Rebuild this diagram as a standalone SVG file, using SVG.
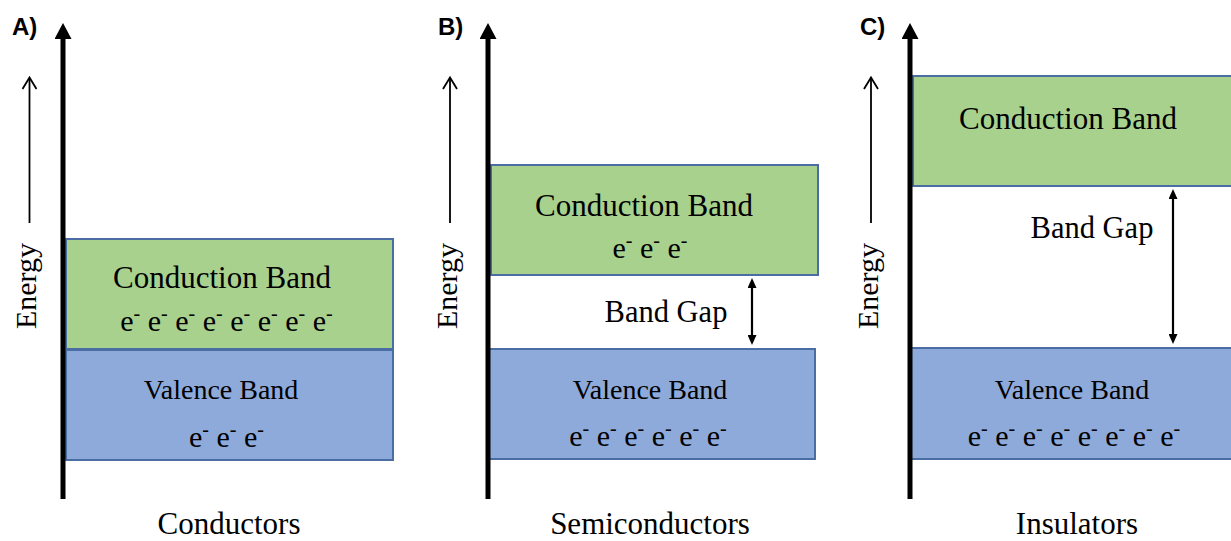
<svg xmlns="http://www.w3.org/2000/svg" width="1231" height="541" viewBox="0 0 1231 541">
<style>
.t{font-family:"Liberation Serif","Times New Roman",serif;fill:#000;text-anchor:middle}
.cb{font-size:31px}
.vb{font-size:28px}
.bg{font-size:30.5px}
.el{font-size:30px}
.lab{font-size:31px}
.en{font-size:30px}
.sup{font-size:20px}
.pl{font-family:"Liberation Sans",Arial,sans-serif;font-weight:bold;font-size:24px;fill:#000}
.cond{fill:#A9D18E;stroke:#4A6EA3;stroke-width:2}
.val{fill:#8EAADB;stroke:#4A6EA3;stroke-width:2}
.axis{stroke:#000;stroke-width:5;fill:none}
.earr{stroke:#000;stroke-width:1.8;fill:none}
.gap{stroke:#000;stroke-width:2.2;fill:none}
</style>
<defs>
<marker id="axhead" markerUnits="userSpaceOnUse" markerWidth="16" markerHeight="17" viewBox="0 0 16 17" refX="1" refY="8.5" orient="auto">
<path d="M0,0 L16,8.5 L0,17 z" fill="#000"/>
</marker>
<marker id="gaphead" markerUnits="userSpaceOnUse" markerWidth="10" markerHeight="9" viewBox="0 0 10 9" refX="1" refY="4.5" orient="auto-start-reverse">
<path d="M0,0 L10,4.5 L0,9 z" fill="#000"/>
</marker>
</defs>

<g id="panel-labels">
<text class="pl" x="12" y="35">A)</text>
<text class="pl" x="438" y="35">B)</text>
<text class="pl" x="860" y="35">C)</text>
</g>

<g id="energy-labels">
<text class="t en" transform="translate(36,286) rotate(-90)">Energy</text>
<text class="t en" transform="translate(457,286) rotate(-90)">Energy</text>
<text class="t en" transform="translate(878,286) rotate(-90)">Energy</text>
</g>

<g id="A-conduction">
<rect class="cond" x="66" y="239" width="327" height="110"/>
<text class="t cb" x="222" y="288">Conduction Band</text>
<text class="t el" x="226.5" y="331">e<tspan class="sup" baseline-shift="super">-</tspan> e<tspan class="sup" baseline-shift="super">-</tspan> e<tspan class="sup" baseline-shift="super">-</tspan> e<tspan class="sup" baseline-shift="super">-</tspan> e<tspan class="sup" baseline-shift="super">-</tspan> e<tspan class="sup" baseline-shift="super">-</tspan> e<tspan class="sup" baseline-shift="super">-</tspan> e<tspan class="sup" baseline-shift="super">-</tspan></text>
</g>
<g id="A-valence">
<rect class="val" x="66" y="350" width="327" height="110"/>
<text class="t vb" x="221" y="399">Valence Band</text>
<text class="t el" x="226.5" y="447">e<tspan class="sup" baseline-shift="super">-</tspan> e<tspan class="sup" baseline-shift="super">-</tspan> e<tspan class="sup" baseline-shift="super">-</tspan></text>
</g>
<g id="A-title"><text class="t lab" x="229" y="534">Conductors</text></g>

<g id="B-conduction">
<rect class="cond" x="491" y="165" width="327" height="110"/>
<text class="t cb" x="644" y="216">Conduction Band</text>
<text class="t el" x="650" y="258">e<tspan class="sup" baseline-shift="super">-</tspan> e<tspan class="sup" baseline-shift="super">-</tspan> e<tspan class="sup" baseline-shift="super">-</tspan></text>
</g>
<g id="B-gap"><text class="t bg" x="666" y="322">Band Gap</text></g>
<g id="B-valence">
<rect class="val" x="488" y="349" width="327" height="110"/>
<text class="t vb" x="650" y="399">Valence Band</text>
<text class="t el" x="648" y="446">e<tspan class="sup" baseline-shift="super">-</tspan> e<tspan class="sup" baseline-shift="super">-</tspan> e<tspan class="sup" baseline-shift="super">-</tspan> e<tspan class="sup" baseline-shift="super">-</tspan> e<tspan class="sup" baseline-shift="super">-</tspan> e<tspan class="sup" baseline-shift="super">-</tspan></text>
</g>
<g id="B-title"><text class="t lab" x="650" y="534">Semiconductors</text></g>

<g id="C-conduction">
<rect class="cond" x="913" y="76" width="330" height="110"/>
<text class="t cb" x="1068" y="129">Conduction Band</text>
</g>
<g id="C-gap"><text class="t bg" x="1092" y="238">Band Gap</text></g>
<g id="C-valence">
<rect class="val" x="910" y="348" width="333" height="111"/>
<text class="t vb" x="1072" y="399">Valence Band</text>
<text class="t el" x="1074" y="446">e<tspan class="sup" baseline-shift="super">-</tspan> e<tspan class="sup" baseline-shift="super">-</tspan> e<tspan class="sup" baseline-shift="super">-</tspan> e<tspan class="sup" baseline-shift="super">-</tspan> e<tspan class="sup" baseline-shift="super">-</tspan> e<tspan class="sup" baseline-shift="super">-</tspan> e<tspan class="sup" baseline-shift="super">-</tspan> e<tspan class="sup" baseline-shift="super">-</tspan></text>
</g>
<g id="C-title"><text class="t lab" x="1077" y="534">Insulators</text></g>

<g id="connectors">
<line class="axis" x1="63" y1="499" x2="63" y2="38" marker-end="url(#axhead)"/>
<line class="axis" x1="488" y1="499" x2="488" y2="38" marker-end="url(#axhead)"/>
<line class="axis" x1="910" y1="499" x2="910" y2="38" marker-end="url(#axhead)"/>

<line class="earr" x1="29.5" y1="223" x2="29.5" y2="78"/>
<polyline class="earr" points="22.5,89 29.5,77.5 36.5,89"/>
<line class="earr" x1="450" y1="223" x2="450" y2="78"/>
<polyline class="earr" points="443,89 450,77.5 457,89"/>
<line class="earr" x1="871" y1="223" x2="871" y2="78"/>
<polyline class="earr" points="864,89 871,77.5 878,89"/>

<line class="gap" x1="752" y1="287" x2="752" y2="336" marker-start="url(#gaphead)" marker-end="url(#gaphead)"/>
<line class="gap" x1="1173" y1="198" x2="1173" y2="335" marker-start="url(#gaphead)" marker-end="url(#gaphead)"/>
</g>
</svg>
